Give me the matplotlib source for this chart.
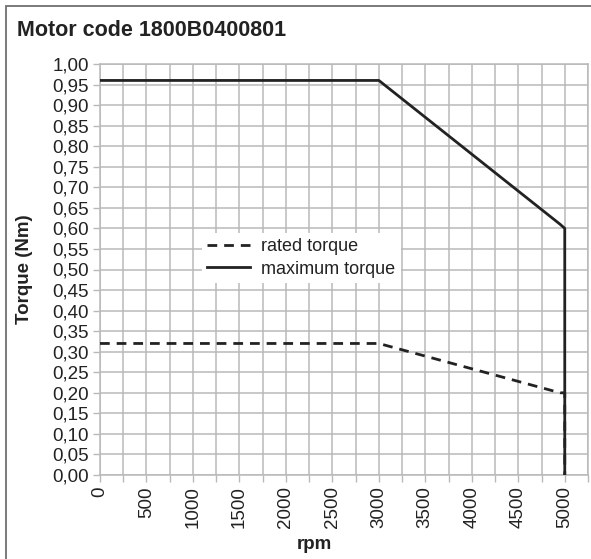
import matplotlib.pyplot as plt
from matplotlib.patches import Rectangle
from matplotlib.ticker import MultipleLocator, FuncFormatter

# Data
rpm_max = [0, 3000, 4950, 5000, 5000]
torque_max = [0.96, 0.96, 0.61, 0.60, 0.0]
rpm_rated = [0, 3000, 4950, 5000, 5000]
torque_rated = [0.32, 0.32, 0.20, 0.20, 0.0]

title = "Motor code 1800B0400801"
grid_col = "#b9b9b9"
ink = "#222222"

plt.rcParams['font.family'] = ['Liberation Sans', 'DejaVu Sans']

fig = plt.figure(figsize=(5.91, 5.59), dpi=100)
ax = fig.add_axes([100 / 591, 1 - 475 / 559, 488 / 591, 411 / 559])

ax.plot(rpm_rated, torque_rated, color=ink, lw=2.0, ls=(0, (3.5, 2.5)),
        label='rated torque', zorder=3)
ax.plot(rpm_max, torque_max, color=ink, lw=2.0, label='maximum torque', zorder=4)

ax.set_xlim(0, 5250)
ax.set_ylim(0, 1.0)
ax.xaxis.set_major_locator(MultipleLocator(500))
ax.xaxis.set_minor_locator(MultipleLocator(250))
ax.yaxis.set_major_locator(MultipleLocator(0.05))
ax.yaxis.set_major_formatter(FuncFormatter(lambda v, p: f"{v:.2f}".replace('.', ',')))
ax.xaxis.set_major_formatter(FuncFormatter(lambda v, p: f"{v:.0f}"))

ax.grid(True, which='both', color=grid_col, lw=1.1)
ax.set_axisbelow(True)
for s in ax.spines.values():
    s.set_color(grid_col)
    s.set_linewidth(1.1)

ax.tick_params(axis='both', which='both', color=grid_col, length=5, width=1,
               labelsize=13.5, labelcolor=ink, pad=3)
ax.tick_params(axis='x', which='major', labelrotation=90)

ax.set_ylabel('Torque (Nm)', fontsize=13.5, fontweight='bold', color=ink)
ax.yaxis.set_label_coords(-0.138, 0.5)
ax.text(0.44, -0.17, 'rpm', transform=ax.transAxes, ha='center', va='center',
        fontsize=13.5, fontweight='bold', color=ink)

leg = ax.legend(loc='upper left', bbox_to_anchor=(0.19, 0.611), fontsize=13,
                frameon=True, fancybox=False, framealpha=1, edgecolor='none',
                facecolor='white', handlelength=2.4, handletextpad=0.6,
                labelspacing=0.3, borderpad=0.3)
for t in leg.get_texts():
    t.set_color(ink)

fig.text(17 / 591, 1 - 36 / 559, title, fontsize=15.5, fontweight='bold',
         color=ink, va='baseline', ha='left')

# outer frame (only left and top edges visible)
fig.patches.append(Rectangle((6 / 591, -0.5), 2, 0.5 + 1 - 6 / 559,
                             transform=fig.transFigure, fill=False,
                             edgecolor='#707070', lw=1.3))

plt.savefig('out.png', dpi=100)
